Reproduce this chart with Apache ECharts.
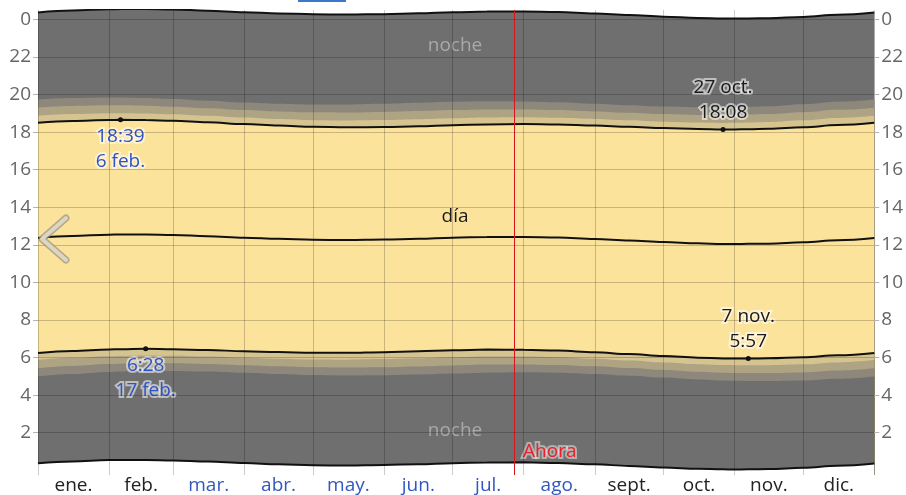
<!DOCTYPE html>
<html>
<head>
<meta charset="utf-8">
<script src="https://cdn.jsdelivr.net/npm/echarts@6/dist/echarts.min.js"></script>
<style>
html,body{margin:0;padding:0;background:#fff;}
#chart{width:906px;height:495px;}
</style>
</head>
<body>
<div id="chart"></div>
<script>
// día del año (0 = 1 ene.)
var days = [0,15,31,36,47,59,74,90,105,120,135,151,166,181,196,212,227,243,258,273,288,299,304,310,319,334,349,365];

// horas (decimales)
var midnightTop = [24.370,24.474,24.542,24.550,24.552,24.525,24.464,24.384,24.319,24.269,24.255,24.280,24.325,24.379,24.417,24.422,24.389,24.317,24.234,24.147,24.079,24.050,24.046,24.052,24.064,24.134,24.247,24.367];
var astroDusk   = [19.740,19.819,19.844,19.840,19.814,19.760,19.672,19.576,19.509,19.466,19.466,19.505,19.557,19.610,19.638,19.629,19.584,19.506,19.429,19.359,19.320,19.309,19.325,19.349,19.383,19.489,19.621,19.737];
var nautDusk    = [19.305,19.391,19.425,19.424,19.405,19.356,19.271,19.175,19.102,19.052,19.043,19.073,19.121,19.175,19.209,19.208,19.172,19.102,19.029,18.958,18.915,18.898,18.912,18.932,18.961,19.058,19.185,19.302];
var civilDusk   = [18.871,18.962,19.006,19.009,18.996,18.952,18.871,18.774,18.696,18.638,18.620,18.642,18.686,18.740,18.779,18.788,18.760,18.698,18.628,18.558,18.510,18.488,18.498,18.515,18.539,18.627,18.750,18.868];
var sunset      = [18.497,18.594,18.646,18.652,18.644,18.605,18.527,18.429,18.347,18.282,18.256,18.271,18.311,18.366,18.410,18.426,18.406,18.350,18.284,18.213,18.162,18.135,18.143,18.157,18.176,18.257,18.375,18.494];
var solarNoon   = [12.370,12.474,12.542,12.550,12.552,12.525,12.464,12.384,12.319,12.269,12.255,12.280,12.325,12.379,12.417,12.422,12.389,12.317,12.234,12.147,12.079,12.050,12.046,12.052,12.064,12.134,12.247,12.367];
var sunrise     = [6.243,6.354,6.434,6.447,6.467,6.445,6.401,6.339,6.291,6.256,6.254,6.289,6.339,6.392,6.424,6.418,6.372,6.284,6.184,6.081,5.996,5.955,5.953,5.950,5.958,6.011,6.119,6.240];
var civilDawn   = [5.869,5.986,6.074,6.090,6.115,6.098,6.057,5.994,5.942,5.900,5.890,5.918,5.964,6.018,6.055,6.056,6.018,5.936,5.840,5.736,5.648,5.602,5.598,5.592,5.595,5.641,5.744,5.866];
var nautDawn    = [5.435,5.557,5.655,5.675,5.706,5.694,5.657,5.593,5.536,5.486,5.467,5.487,5.529,5.583,5.625,5.636,5.606,5.532,5.439,5.336,5.243,5.192,5.184,5.175,5.173,5.210,5.309,5.432];
var astroDawn   = [5.000,5.129,5.236,5.259,5.297,5.290,5.256,5.192,5.129,5.072,5.044,5.055,5.093,5.148,5.196,5.215,5.194,5.128,5.039,4.935,4.838,4.781,4.771,4.758,4.751,4.779,4.873,4.997];
var midnightBottom = [0.370,0.474,0.542,0.550,0.552,0.525,0.464,0.384,0.319,0.269,0.255,0.280,0.325,0.379,0.417,0.422,0.389,0.317,0.234,0.147,0.079,0.050,0.046,0.052,0.064,0.134,0.247,0.367];

var monthNames  = ['ene.','feb.','mar.','abr.','may.','jun.','jul.','ago.','sept.','oct.','nov.','dic.'];
var monthStarts = [0,31,59,90,120,151,181,212,243,273,304,334,365];
var monthMids   = [15.5,45,74.5,105,135.5,166,196.5,227.5,258,288.5,319,349.5];
var blueMonths  = ['mar.','abr.','may.','jun.','jul.','ago.'];
var hourTicks   = [2,4,6,8,10,12,14,16,18,20,22,24];
var nowDay = 208;

// indices de los extremos anotados
var iMaxSet = 3, iMaxRise = 4, iMinSet = 21, iMinRise = 23;

var NIGHT = '#6f6f6f', ASTRO = '#8d887b', NAUT = '#aea383', CIVIL = '#d5c490', DAY = '#fce39c';
var FONT = '"Open Sans", sans-serif';

var chart = echarts.init(document.getElementById('chart'));

function pts(arr) {
	return days.map(function (d, i) { return [d, arr[i]]; });
}

function band(name, arr, color, line) {
	return {
		name: name, type: 'line', data: pts(arr),
		smooth: 0.4, smoothMonotone: 'x', symbol: 'none', silent: true,
		lineStyle: line ? { color: '#111', width: 2 } : { width: 0, opacity: 0 },
		areaStyle: { color: color, opacity: 1, origin: 'start' }
	};
}

function mark(x, y, text, color, pos, dot, dist) {
	return {
		coord: [x, y], symbol: 'circle', symbolSize: dot ? 5 : 1,
		itemStyle: { color: dot ? '#111' : 'rgba(0,0,0,0)' },
		label: {
			show: true, formatter: text, position: pos, distance: dist || 3,
			color: color, fontSize: 19, lineHeight: 25, fontFamily: FONT,
			textBorderColor: 'rgba(255,255,255,0.55)', textBorderWidth: dot ? 4 : 0
		}
	};
}

var ahora = mark(nowDay, 0.99, 'Ahora', '#e8222b', 'right', false, 8);
ahora.label.textBorderWidth = 4;
ahora.label.textBorderColor = 'rgba(255,255,255,0.45)';

function hourAxis(pos, grid) {
	return {
		type: 'value', min: -0.25, max: 24.5, position: pos, z: 10,
		axisLine: { show: false },
		axisTick: { show: true, length: 5, customValues: hourTicks, lineStyle: { color: '#b4b4b4' } },
		splitLine: { show: grid, lineStyle: { color: 'rgba(0,0,0,0.2)', width: 1 } },
		axisLabel: {
			customValues: hourTicks, margin: 7, color: '#666', fontSize: 19, fontFamily: FONT,
			formatter: function (v) { return String(v % 24); }
		}
	};
}

var option = {
	animation: false,
	backgroundColor: '#fff',
	grid: { left: 38, right: 30, top: 10, bottom: 20 },
	xAxis: {
		type: 'value', min: 0, max: 365, z: 10,
		axisLine: { show: false },
		axisTick: { show: false, customValues: monthStarts },
		splitLine: { show: true, lineStyle: { color: 'rgba(0,0,0,0.2)', width: 1 } },
		axisLabel: {
			customValues: monthMids, margin: 1, fontSize: 19, fontFamily: FONT,
			formatter: function (v) {
				var n = monthNames[monthMids.indexOf(v)];
				return blueMonths.indexOf(n) >= 0 ? '{b|' + n + '}' : '{k|' + n + '}';
			},
			rich: {
				b: { color: '#3258bf', fontSize: 19, fontFamily: FONT },
				k: { color: '#222', fontSize: 19, fontFamily: FONT }
			}
		}
	},
	yAxis: [hourAxis('left', true), hourAxis('right', false)],
	series: [
		band('medianoche', midnightTop, NIGHT, true),
		band('crepúsculo astronómico', astroDusk, ASTRO, false),
		band('crepúsculo náutico', nautDusk, NAUT, false),
		band('crepúsculo civil', civilDusk, CIVIL, false),
		band('puesta del sol', sunset, DAY, true),
		band('salida del sol', sunrise, CIVIL, true),
		band('amanecer civil', civilDawn, NAUT, false),
		band('amanecer náutico', nautDawn, ASTRO, false),
		band('amanecer astronómico', astroDawn, NIGHT, false),
		band('medianoche ', midnightBottom, '#fff', true),
		{
			name: 'mediodía solar', type: 'line', data: pts(solarNoon),
			smooth: 0.4, smoothMonotone: 'x', symbol: 'none', silent: true,
			lineStyle: { color: '#111', width: 2 },
			markLine: {
				silent: true, symbol: 'none', label: { show: false },
				lineStyle: { color: '#d8141c', width: 1, type: 'solid' },
				data: [{ xAxis: nowDay }]
			},
			markPoint: {
				silent: true,
				data: [
					mark(days[iMaxSet], sunset[iMaxSet], '18:39\n6 feb.', '#2f55c4', 'bottom', true, 2),
					mark(days[iMinSet], sunset[iMinSet], '27 oct.\n18:08', '#1a1a1a', 'top', true, 2),
					mark(days[iMaxRise], sunrise[iMaxRise], '6:28\n17 feb.', '#2f55c4', 'bottom', true, 2),
					mark(days[iMinRise], sunrise[iMinRise], '7 nov.\n5:57', '#1a1a1a', 'top', true, 2),
					mark(182, 22.58, 'noche', '#a9a9a9', 'inside', false),
					mark(182, 2.09, 'noche', '#a9a9a9', 'inside', false),
					mark(182, 13.48, 'día', '#1a1a1a', 'inside', false),
					ahora
				]
			}
		}
	],
	graphic: [
		{ type: 'rect', left: 298, top: 0, shape: { width: 48, height: 2 }, style: { fill: '#3a78cc' } },
		{ type: 'polyline', shape: { points: [[66, 218], [42, 239], [66, 260]] }, style: { stroke: 'rgba(150,144,128,0.7)', lineWidth: 7, lineCap: 'round', lineJoin: 'round', fill: null }, z: 100 },
		{ type: 'polyline', shape: { points: [[66, 218], [42, 239], [66, 260]] }, style: { stroke: '#ddd6c2', lineWidth: 4, lineCap: 'round', lineJoin: 'round', fill: null }, z: 101 }
	]
};
chart.setOption(option);
</script>
</body>
</html>
